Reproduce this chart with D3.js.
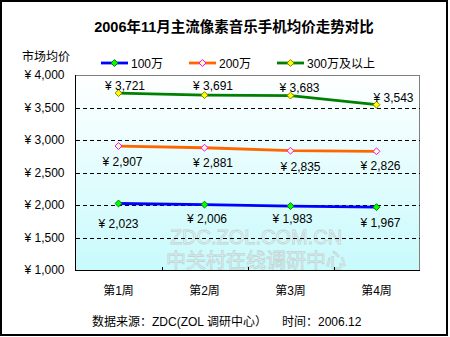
<!DOCTYPE html>
<html>
<head>
<meta charset="utf-8">
<script src="https://cdn.jsdelivr.net/npm/d3@7"></script>
<style>
	body { margin: 0; background: #fff; }
	svg { display: block; }
	text { font-family: 'Liberation Sans', Arial, 'Noto Sans CJK SC', sans-serif; }
</style>
</head>
<body>
<svg></svg>
<script>
var width = 450;
var height = 337;

// data
var weeks = ['第1周', '第2周', '第3周', '第4周'];
var seriesNames = ['100万', '200万', '300万及以上'];
var price100 = [2023, 2006, 1983, 1967];
var price200 = [2907, 2881, 2835, 2826];
var price300 = [3721, 3691, 3683, 3543];
var yTicks = [1000, 1500, 2000, 2500, 3000, 3500, 4000];

// label nudges (layout only), [dx, dy] from the point
var nudge100 = [[0, 24], [2.5, 18], [2, 16.5], [4, 19.5]];
var nudge200 = [[4, 20], [8.5, 19], [10, 20], [4, 19]];
var nudge300 = [[6.5, -3], [8.5, -5], [9, -3.5], [17, -3]];

var series = [
	{ name: seriesNames[0], values: price100, nudge: nudge100, line: '#0000ff', fill: '#00ff00', edge: '#008000' },
	{ name: seriesNames[1], values: price200, nudge: nudge200, line: '#ff6600', fill: '#ffffcc', edge: '#ff00ff' },
	{ name: seriesNames[2], values: price300, nudge: nudge300, line: '#008000', fill: '#ffff00', edge: '#808000' }
];

var plot = { left: 75.5, right: 419.5, top: 75, bottom: 270 };

var svg = d3.select('svg')
	.attr('width', width)
	.attr('height', height);

var xScale = d3.scaleBand()
	.domain(weeks)
	.range([plot.left, plot.right])
	.padding(0);
var yScale = d3.scaleLinear()
	.domain([1000, 4000])
	.range([plot.bottom, plot.top]);

var grad = svg.append('defs')
	.append('linearGradient')
	  .attr('id', 'bg')
	  .attr('x1', 0).attr('y1', 0)
	  .attr('x2', 0).attr('y2', 1);
grad.append('stop').attr('offset', '0%').attr('stop-color', '#ffffff');
grad.append('stop').attr('offset', '100%').attr('stop-color', '#c8fafc');

// outer frame
svg.append('rect')
	.attr('x', 1).attr('y', 1)
	.attr('width', 446).attr('height', 334)
	.attr('fill', '#fff')
	.attr('stroke', '#000')
	.attr('stroke-width', 2);

svg.append('text')
	.attr('x', 234)
	.attr('y', 32)
	.attr('text-anchor', 'middle')
	.attr('font-size', '14.5px')
	.attr('font-weight', 'bold')
	.attr('fill', '#000')
	.text('2006年11月主流像素音乐手机均价走势对比');

svg.append('text')
	.attr('x', 22)
	.attr('y', 61)
	.attr('font-size', '12px')
	.text('市场均价');

// plot background
svg.append('rect')
	.attr('x', plot.left).attr('y', plot.top + 0.5)
	.attr('width', plot.right - plot.left)
	.attr('height', plot.bottom - plot.top)
	.attr('fill', 'url(#bg)')
	.attr('stroke', '#808080')
	.attr('stroke-width', 1)
	.attr('shape-rendering', 'crispEdges');

// watermark
var wm = svg.append('g')
	.attr('text-anchor', 'middle')
	.attr('fill', 'rgba(255,255,255,0.35)')
	.attr('stroke', '#c4d4d4')
	.attr('stroke-width', 0.8);
wm.append('text')
	.attr('x', 256).attr('y', 244)
	.attr('font-size', '20px')
	.text('ZDC.ZOL.COM.CN');
wm.append('text')
	.attr('x', 256).attr('y', 268)
	.attr('font-size', '20px')
	.text('中关村在线调研中心');

// y axis with dashed grid
var yAxis = d3.axisLeft(yScale)
	.tickValues(yTicks)
	.tickSize(0)
	.tickPadding(11)
	.tickFormat(d => '¥ ' + d3.format(',')(d));
var gy = svg.append('g')
	.attr('transform', `translate(${plot.left}, 0)`)
	.call(yAxis);
gy.select('.domain').remove();
gy.selectAll('text')
	.attr('font-size', '12px')
	.attr('fill', '#000');

svg.append('g')
	.attr('shape-rendering', 'crispEdges')
	.selectAll('line')
	.data(yTicks.filter(d => d > 1000 && d < 4000))
	.enter()
	.append('line')
	  .attr('x1', plot.left)
	  .attr('x2', plot.right)
	  .attr('y1', d => Math.round(yScale(d)) + 0.5)
	  .attr('y2', d => Math.round(yScale(d)) + 0.5)
	  .attr('stroke', '#000')
	  .attr('stroke-dasharray', '4,3');

// x axis
var xAxis = d3.axisBottom(xScale)
	.tickSize(0)
	.tickPadding(16);
var gx = svg.append('g')
	.attr('transform', `translate(0, ${plot.bottom})`)
	.call(xAxis);
gx.select('.domain').remove();
gx.selectAll('text')
	.attr('font-size', '12px')
	.attr('fill', '#000');

svg.append('g')
	.attr('shape-rendering', 'crispEdges')
	.selectAll('line')
	.data(weeks.slice(1))
	.enter()
	.append('line')
	  .attr('x1', d => Math.round(xScale(d)) + 0.5)
	  .attr('x2', d => Math.round(xScale(d)) + 0.5)
	  .attr('y1', plot.bottom - 3)
	  .attr('y2', plot.bottom)
	  .attr('stroke', '#000');

svg.append('line')
	.attr('x1', plot.left).attr('x2', plot.left)
	.attr('y1', plot.top).attr('y2', plot.bottom + 0.5)
	.attr('stroke', '#000')
	.attr('shape-rendering', 'crispEdges');
svg.append('line')
	.attr('x1', plot.left).attr('x2', plot.right + 0.5)
	.attr('y1', plot.bottom + 0.5).attr('y2', plot.bottom + 0.5)
	.attr('stroke', '#000')
	.attr('shape-rendering', 'crispEdges');

// lines, markers, labels
var line = d3.line()
	.x((d, i) => xScale(weeks[i]) + xScale.bandwidth() / 2)
	.y(d => yScale(d));

var diamond = d3.symbol().type(d3.symbolDiamond2).size(30);

series.forEach(s => {
	svg.append('path')
	  .attr('d', line(s.values))
	  .attr('fill', 'none')
	  .attr('stroke', s.line)
	  .attr('stroke-width', 2.8);

	svg.append('g')
	  .selectAll('path')
	  .data(s.values)
	  .enter()
	  .append('path')
	    .attr('d', diamond)
	    .attr('transform', (d, i) => `translate(${xScale(weeks[i]) + xScale.bandwidth() / 2}, ${yScale(d)})`)
	    .attr('fill', s.fill)
	    .attr('stroke', s.edge)
	    .attr('stroke-width', 1);

	svg.append('g')
	  .selectAll('text')
	  .data(s.values)
	  .enter()
	  .append('text')
	    .attr('x', (d, i) => xScale(weeks[i]) + xScale.bandwidth() / 2 + s.nudge[i][0])
	    .attr('y', (d, i) => yScale(d) + s.nudge[i][1])
	    .attr('text-anchor', 'middle')
	    .attr('font-size', '12px')
	    .text(d => '¥ ' + d3.format(',')(d));
});

// legend
var legend = svg.append('g')
	.selectAll('g')
	.data(series)
	.enter()
	.append('g')
	  .attr('transform', (d, i) => `translate(${101 + i * 88}, 63)`);
legend.append('line')
	.attr('x1', 0).attr('x2', 27)
	.attr('stroke', d => d.line)
	.attr('stroke-width', 2.8);
legend.append('path')
	.attr('d', diamond)
	.attr('transform', 'translate(13.5, 0)')
	.attr('fill', d => d.fill)
	.attr('stroke', d => d.edge);
legend.append('text')
	.attr('x', 30)
	.attr('y', 5)
	.attr('font-size', '12px')
	.text(d => d.name);

// footer
svg.append('text')
	.attr('x', 92)
	.attr('y', 326)
	.attr('font-size', '12px')
	.text('数据来源：ZDC(ZOL 调研中心）');
svg.append('text')
	.attr('x', 282)
	.attr('y', 326)
	.attr('font-size', '12px')
	.text('时间：2006.12');
</script>
</body>
</html>
